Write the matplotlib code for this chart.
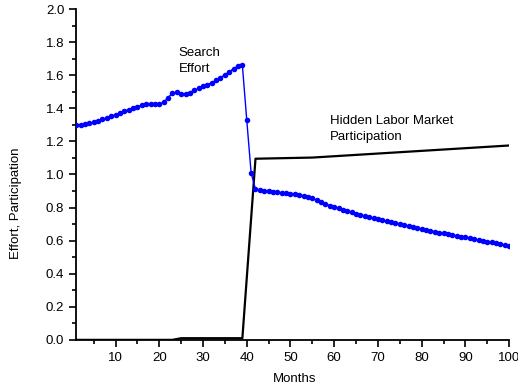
import numpy as np
import matplotlib
matplotlib.use("Agg")
import matplotlib.pyplot as plt
from matplotlib.ticker import MultipleLocator

plt.rcParams['font.family'] = ['Liberation Sans', 'DejaVu Sans']

months = np.arange(1, 101)
search_effort = [
    1.298, 1.300, 1.303, 1.308, 1.315, 1.323, 1.333, 1.342, 1.352, 1.362,
    1.372, 1.382, 1.392, 1.401, 1.410, 1.418, 1.423, 1.424, 1.424, 1.425,
    1.436, 1.465, 1.490, 1.497, 1.487, 1.487, 1.495, 1.508, 1.520, 1.532,
    1.543, 1.555, 1.568, 1.585, 1.603, 1.620, 1.640, 1.655, 1.660, 1.330,
    1.010, 0.910, 0.905, 0.902, 0.899, 0.896, 0.893, 0.890, 0.887, 0.884,
    0.880, 0.876, 0.871, 0.865, 0.855, 0.844, 0.833, 0.822, 0.812, 0.803,
    0.795, 0.787, 0.779, 0.771, 0.763, 0.756, 0.749, 0.742, 0.735, 0.729,
    0.723, 0.717, 0.711, 0.705, 0.699, 0.693, 0.687, 0.681, 0.675, 0.669,
    0.664, 0.659, 0.654, 0.649, 0.644, 0.639, 0.634, 0.629, 0.624, 0.619,
    0.614, 0.609, 0.604, 0.599, 0.594, 0.589, 0.583, 0.577, 0.571, 0.565,
]

# hidden participation, line vertices
part_months = [1, 23, 25, 39, 42, 55, 100]
participation = [0.0, 0.0, 0.01, 0.01, 1.095, 1.102, 1.175]

fig = plt.figure(figsize=(5.18, 3.92), dpi=100)
ax = fig.add_axes([0.147, 0.133, 0.836, 0.844])

ax.plot(part_months, participation, color='black', lw=1.6, zorder=2)
ax.plot(months, search_effort, color='#0000ff', lw=1.0, marker='o',
        markersize=4.0, markeredgewidth=0, zorder=3)

ax.set_xlim(1, 100)
ax.set_ylim(0, 2.0)
ax.xaxis.set_major_locator(MultipleLocator(10))
ax.xaxis.set_minor_locator(MultipleLocator(5))
ax.yaxis.set_minor_locator(MultipleLocator(0.1))
ax.set_yticks(np.arange(0, 2.01, 0.2))
ax.set_yticklabels(['%.1f' % v for v in np.arange(0, 2.01, 0.2)])

for s in ['top', 'right']:
    ax.spines[s].set_visible(False)
for s in ['left', 'bottom']:
    ax.spines[s].set_linewidth(1.3)

ax.tick_params(which='major', direction='out', length=5, width=1.2, labelsize=9.5)
ax.tick_params(which='minor', direction='out', length=3, width=1.2)

ax.set_xlabel('Months', fontsize=9.5)
ax.set_ylabel('Effort, Participation', fontsize=9.5)
ax.xaxis.set_label_coords(0.505, -0.10)
ax.yaxis.set_label_coords(-0.125, 0.414)

ax.text(24.4, 1.60, 'Search\nEffort', fontsize=9.5, va='bottom', ha='left',
        linespacing=1.5)
ax.text(59, 1.19, 'Hidden Labor Market\nParticipation', fontsize=9.5,
        va='bottom', ha='left', linespacing=1.5)

fig.savefig('out.png', dpi=100)
